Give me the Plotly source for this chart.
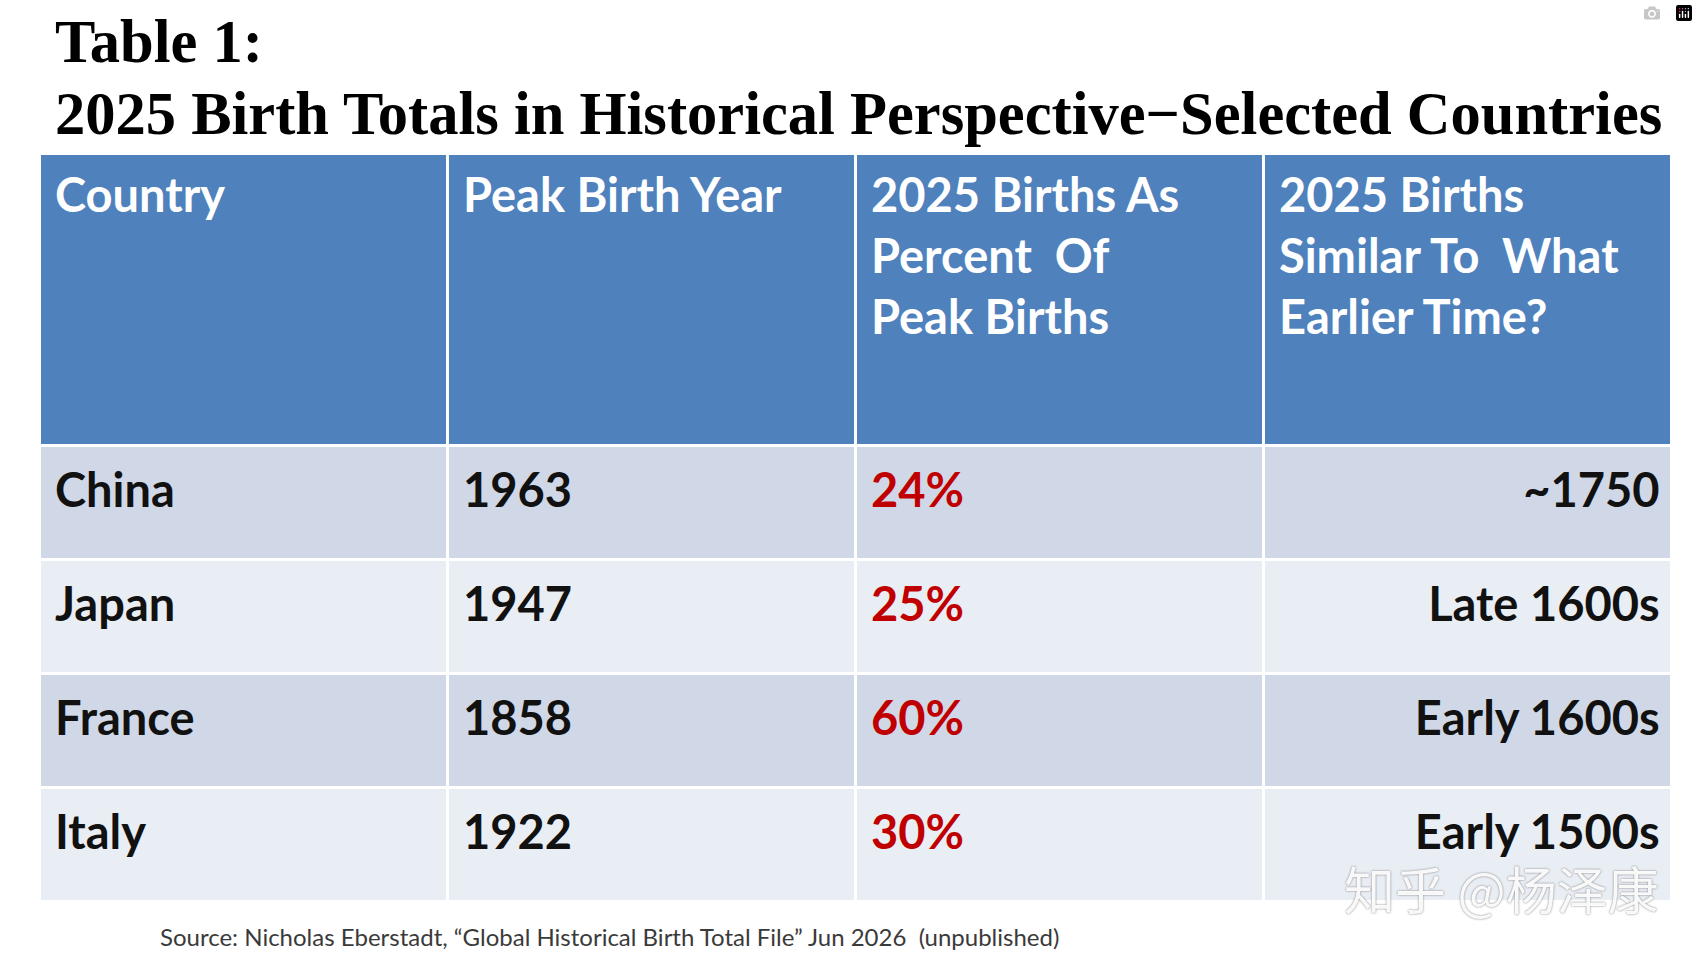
import plotly.graph_objects as go

W, H = 1698, 962

title_line1 = "Table 1:"
title_line2 = "2025 Birth Totals in Historical Perspective\u2212Selected Countries"
headers = [["Country"], ["Peak Birth Year"],
           ["2025 Births As", "Percent  Of", "Peak Births"],
           ["2025 Births", "Similar To  What", "Earlier Time?"]]
countries = ["China", "Japan", "France", "Italy"]
peak_years = ["1963", "1947", "1858", "1922"]
pct_of_peak = ["24%", "25%", "60%", "30%"]
similar_to = ["~1750", "Late 1600s", "Early 1600s", "Early 1500s"]
source_text = "Source: Nicholas Eberstadt, \u201cGlobal Historical Birth Total File\u201d Jun 2026  (unpublished)"
watermark = "知乎 @杨泽康"

BLUE = "#4F81BD"
ROW_A = "#D0D8E8"
ROW_B = "#E9EDF4"
RED = "#C00000"
FONT = "Lato"
FS = 47

nrows = len(countries)
row_fill = [ROW_A if i % 2 == 0 else ROW_B for i in range(nrows)]

# table geometry in pixels
T_LEFT, T_RIGHT, T_TOP, T_BOTTOM = 39, 1671, 153, 905
HEAD_H, ROW_H = 292, 114
DX = 8          # text shift right
DH = 5          # header text shift down
DB = 19         # body text shift down


def header_text(lines):
    lines = list(lines) + ["\u00a0"] * (3 - len(lines))
    return "<br>".join(lines)


# background table: fills and white grid lines only
fig = go.Figure()
fig.add_trace(go.Table(
    domain=dict(x=[T_LEFT / W, T_RIGHT / W], y=[1 - T_BOTTOM / H, 1 - T_TOP / H]),
    columnwidth=[1, 1, 1, 1],
    header=dict(values=[""] * 4, fill_color=BLUE, line=dict(color="white", width=3), height=HEAD_H),
    cells=dict(values=[[""] * nrows] * 4, fill_color=[row_fill] * 4,
               line=dict(color="white", width=3), height=ROW_H),
    hoverinfo="skip",
))

# text table laid over it
fig.add_trace(go.Table(
    domain=dict(x=[(T_LEFT + DX) / W, (T_RIGHT + DX) / W],
                y=[1 - (T_BOTTOM + DB) / H, 1 - (T_TOP + DH) / H]),
    columnwidth=[1, 1, 1, 1],
    header=dict(
        values=[header_text(h) for h in headers],
        fill_color="rgba(0,0,0,0)",
        line=dict(color="rgba(0,0,0,0)", width=0),
        align="left",
        height=HEAD_H + DB - DH,
        font=dict(family=FONT, size=FS, color="white", weight="bold"),
    ),
    cells=dict(
        values=[countries, peak_years, pct_of_peak, [s + "\u00a0" for s in similar_to]],
        fill_color="rgba(0,0,0,0)",
        line=dict(color="rgba(0,0,0,0)", width=0),
        align=["left", "left", "left", "right"],
        height=ROW_H,
        font=dict(family=FONT, size=FS, color=["#111111", "#111111", RED, "#111111"], weight="bold"),
    ),
))

fig.add_annotation(text="<b>" + title_line1 + "</b>", xref="paper", yref="paper",
                   x=53 / W, y=1 - 77 / H, xanchor="left", yanchor="bottom", showarrow=False,
                   font=dict(family="Liberation Serif", size=60.5, color="black"))
fig.add_annotation(text="<b>" + title_line2 + "</b>", xref="paper", yref="paper",
                   x=53 / W, y=1 - 149 / H, xanchor="left", yanchor="bottom", showarrow=False,
                   font=dict(family="Liberation Serif", size=60.5, color="black"))
fig.add_annotation(text=source_text, xref="paper", yref="paper",
                   x=158 / W, y=1 - 936 / H, xanchor="left", yanchor="middle", showarrow=False,
                   font=dict(family=FONT, size=24, color="#3a3a3a"))
fig.add_annotation(text=watermark, xref="paper", yref="paper",
                   x=1661 / W, y=1 - 888 / H, xanchor="right", yanchor="middle", showarrow=False,
                   font=dict(family="Noto Sans CJK SC", size=51, color="rgba(255,255,255,0.95)",
                             shadow="0px 0px 2px #666666"))

fig.update_layout(width=W, height=H, margin=dict(l=0, r=0, t=0, b=0),
                  paper_bgcolor="white", plot_bgcolor="white")

fig.write_html("out.html", post_script="document.body.style.margin='0';")
